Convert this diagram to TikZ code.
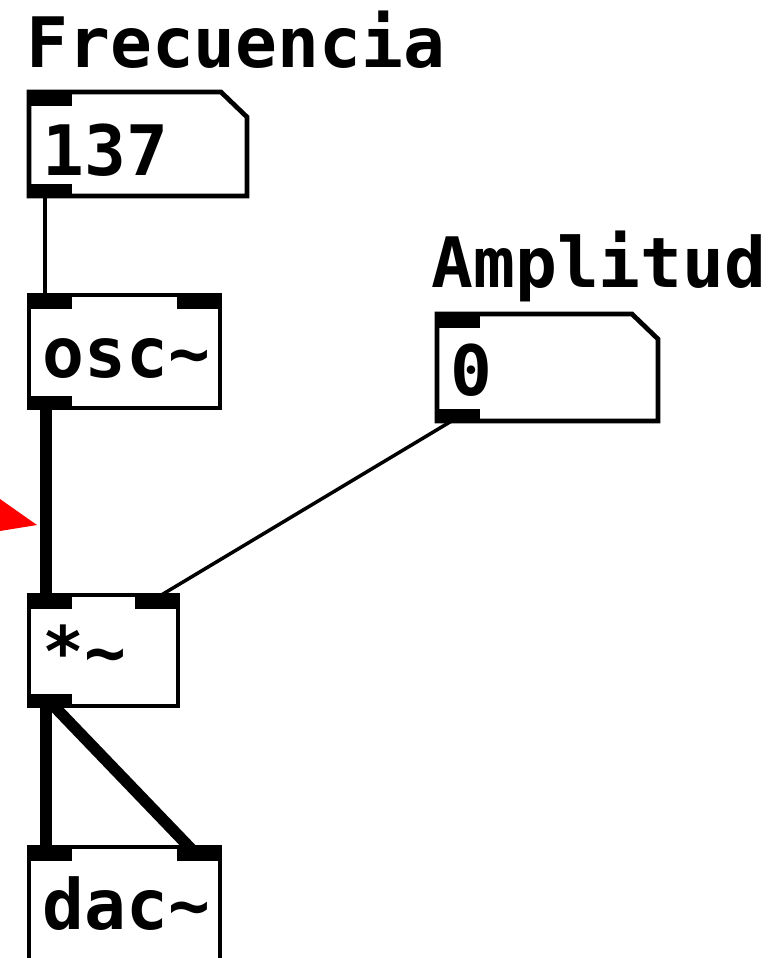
\documentclass[tikz,border=0pt]{standalone}
\usepackage{fontspec}
\setmonofont{DejaVu Sans Mono}
\usetikzlibrary{calc}

\begin{document}
\begin{tikzpicture}[
    x=0.02cm, y=-0.02cm,
    obj/.style={rectangle, draw, fill=white, line width=0.095cm, anchor=north west, inner sep=0, outer sep=0},
    numbox/.style={rectangle, anchor=north west, inner sep=0, outer sep=0},
    txt/.style={anchor=base west, inner sep=0, font=\ttfamily\bfseries\fontsize{39.6}{47}\selectfont},
    wire/.style={line width=0.07cm},
    sig/.style={line width=0.23cm}
]

\clip (0,0) rectangle (777,958);

% Cajas
\node[numbox, minimum width=4.36cm, minimum height=2.08cm] (num) at (29,92) {};
\node[obj, minimum width=3.82cm, minimum height=2.26cm] (osc) at (29,295) {};
\node[numbox, minimum width=4.42cm, minimum height=2.14cm] (amp) at (437,314) {};
\node[obj, minimum width=2.98cm, minimum height=2.22cm] (mul) at (29,595) {};
\node[obj, minimum width=3.82cm, minimum height=2.26cm] (dac) at (29,847) {};

% Cajas de numero
\foreach \b in {num,amp}
  \draw[line width=0.095cm] (\b.north west) -- ([shift={(-26,0)}]\b.north east)
    -- ([shift={(0,25)}]\b.north east) -- (\b.south east) -- (\b.south west) -- cycle;

% Textos
\node[txt] (frec) at (26,67) {Frecuencia};
\node[txt] (ampl) at (431,287) {Amplitud};
\node[txt] (num-txt) at ([shift={(13,83)}]num.north west) {137};
\node[txt] (osc-txt) at ([shift={(13,82)}]osc.north west) {osc\char`\~};
\node[txt] (amp-txt) at ([shift={(13,81)}]amp.north west) {0};
\node[txt] (mul-txt) at ([shift={(13,81)}]mul.north west) {*\char`\~};
\node[txt] (dac-txt) at ([shift={(13,82)}]dac.north west) {dac\char`\~};

% Conexiones
\draw[wire] ([shift={(16,0)}]num.south west) -- ([shift={(16,0)}]osc.north west);
\draw[sig] ([shift={(17,-5)}]osc.south west) -- ([shift={(17,5)}]mul.north west);
\draw[wire] ([shift={(18,-2)}]amp.south west) -- ([shift={(-20,2)}]mul.north east);
\draw[sig] ([shift={(17,-5)}]mul.south west) -- ([shift={(17,5)}]dac.north west);
\draw[sig] ([shift={(20,-5)}]mul.south west) -- ([shift={(-23,8)}]dac.north east);

% Entradas y salidas
\foreach \b in {num,osc,amp,mul,dac}
  \fill ([shift={(-2,-2)}]\b.north west) rectangle ++(45,16);
\foreach \b in {num,osc,amp,mul}
  \fill ([shift={(-2,2)}]\b.south west) rectangle ++(45,-14);
\foreach \b in {osc,mul,dac}
  \fill ([shift={(2,-2)}]\b.north east) rectangle ++(-45,16);

% Flecha
\fill[red] (0,499) -- (37,525) -- (0,531) -- cycle;

\end{tikzpicture}
\end{document}
